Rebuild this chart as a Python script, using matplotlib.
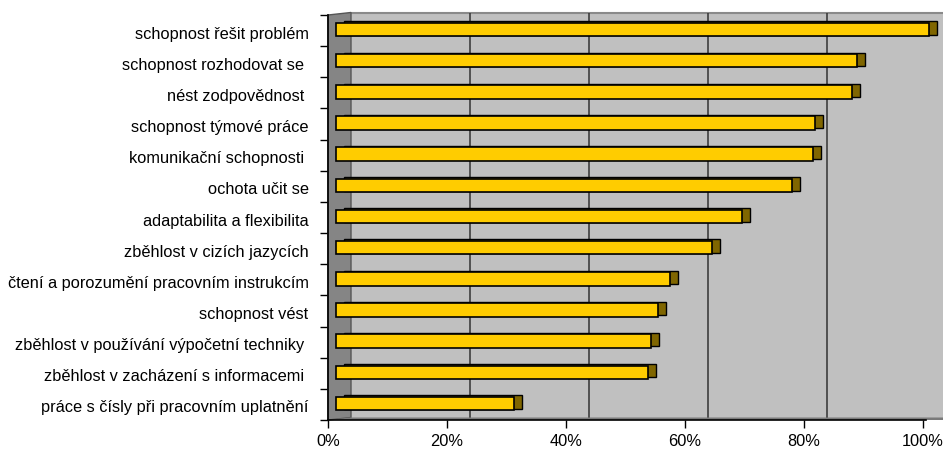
import matplotlib
matplotlib.use('Agg')
import matplotlib.pyplot as plt
import matplotlib.transforms as mtransforms
from matplotlib.patches import Polygon, Rectangle

labels = ['schopnost řešit problém', 'schopnost rozhodovat se ', 'nést zodpovědnost ',
          'schopnost týmové práce', 'komunikační schopnosti ', 'ochota učit se',
          'adaptabilita a flexibilita', 'zběhlost v cizích jazycích',
          'čtení a porozumění pracovním instrukcím', 'schopnost vést',
          'zběhlost v používání výpočetní techniky ', 'zběhlost v zacházení s informacemi ',
          'práce s čísly při pracovním uplatnění']
values = [99.7, 87.6, 86.7, 80.5, 80.2, 76.6, 68.2, 63.2, 56.1, 54.1, 52.9, 52.4, 29.9]
ticks = [0, 20, 40, 60, 80, 100]
tick_labels = ['0%', '20%', '40%', '60%', '80%', '100%']

plt.rcParams['font.family'] = ['Liberation Sans', 'DejaVu Sans']

fig = plt.figure(figsize=(9.43, 4.5), dpi=100)
ax = fig.add_axes([328 / 943, 30 / 450, 615 / 943, 405 / 450])
n = len(labels)
ypos = list(range(n))

# 3d offsets in pixels
back = mtransforms.offset_copy(ax.transData, fig=fig, x=23, y=2.5, units='dots')
face = mtransforms.offset_copy(ax.transData, fig=fig, x=8, y=1, units='dots')
side = mtransforms.offset_copy(ax.transData, fig=fig, x=16, y=2.5, units='dots')

# back wall + gridlines
ax.add_patch(Rectangle((0, -0.5), 130, n, transform=back, facecolor='#c0c0c0',
                       edgecolor='none', clip_on=False, zorder=0))
ax.plot([0, 130], [-0.5, -0.5], transform=back, color='#8a8a8a', lw=1.5, clip_on=False, zorder=1)
ax.vlines(ticks[1:], -0.5, n - 0.5, transform=back, color='#333333', lw=1.1, zorder=1, clip_on=False)

ax.barh(ypos, values, height=0.43, color='#806600', edgecolor='black', lw=1.0,
        transform=side, zorder=3)
ax.barh(ypos, values, height=0.43, color='#ffcc00', edgecolor='black', lw=1.2,
        transform=face, zorder=4)

ax.set_xlim(0, 615 / 5.95)
ax.set_ylim(n - 0.5, -0.5)

# left wall and floor
fig.canvas.draw()
ft = ax.transData.transform((0, -0.5))
fb = ax.transData.transform((0, n - 0.5))
bt = back.transform((0, -0.5))
bb = back.transform((0, n - 0.5))
fr = ax.transData.transform((130, n - 0.5))
br = back.transform((130, n - 0.5))
ax.add_patch(Polygon([ft, bt, bb, fb], closed=True, transform=mtransforms.IdentityTransform(),
                     facecolor='#858585', edgecolor='#555555', lw=1.0, clip_on=False, zorder=2))
ax.add_patch(Polygon([fb, bb, br, fr], closed=True, transform=mtransforms.IdentityTransform(),
                     facecolor='#7a7a7a', edgecolor='none', clip_on=False, zorder=2))

ax.set_yticks(ypos)
ax.set_yticklabels(labels, fontsize=11.8)
ax.set_yticks([y - 0.5 for y in range(n + 1)], minor=True)
ax.tick_params(axis='y', which='major', length=0, pad=14)
ax.tick_params(axis='y', which='minor', length=6, width=1, direction='out')
ax.set_xticks(ticks)
ax.set_xticklabels(tick_labels, fontsize=11.8)
ax.tick_params(axis='x', length=6, width=1, pad=4)

# labels sit a little lower than bar centres
shift = mtransforms.ScaledTranslation(0, -2 / 100, fig.dpi_scale_trans)
for t in ax.get_yticklabels():
    t.set_transform(t.get_transform() + shift)

ax.set_facecolor('none')
for s in ['top', 'right']:
    ax.spines[s].set_visible(False)
ax.spines['left'].set_linewidth(1.2)
ax.spines['bottom'].set_linewidth(1.2)
ax.spines['bottom'].set_bounds(0, 100.5)
ax.spines['left'].set_zorder(5)
ax.spines['bottom'].set_zorder(5)

fig.savefig('out.png', dpi=100, facecolor='white')
